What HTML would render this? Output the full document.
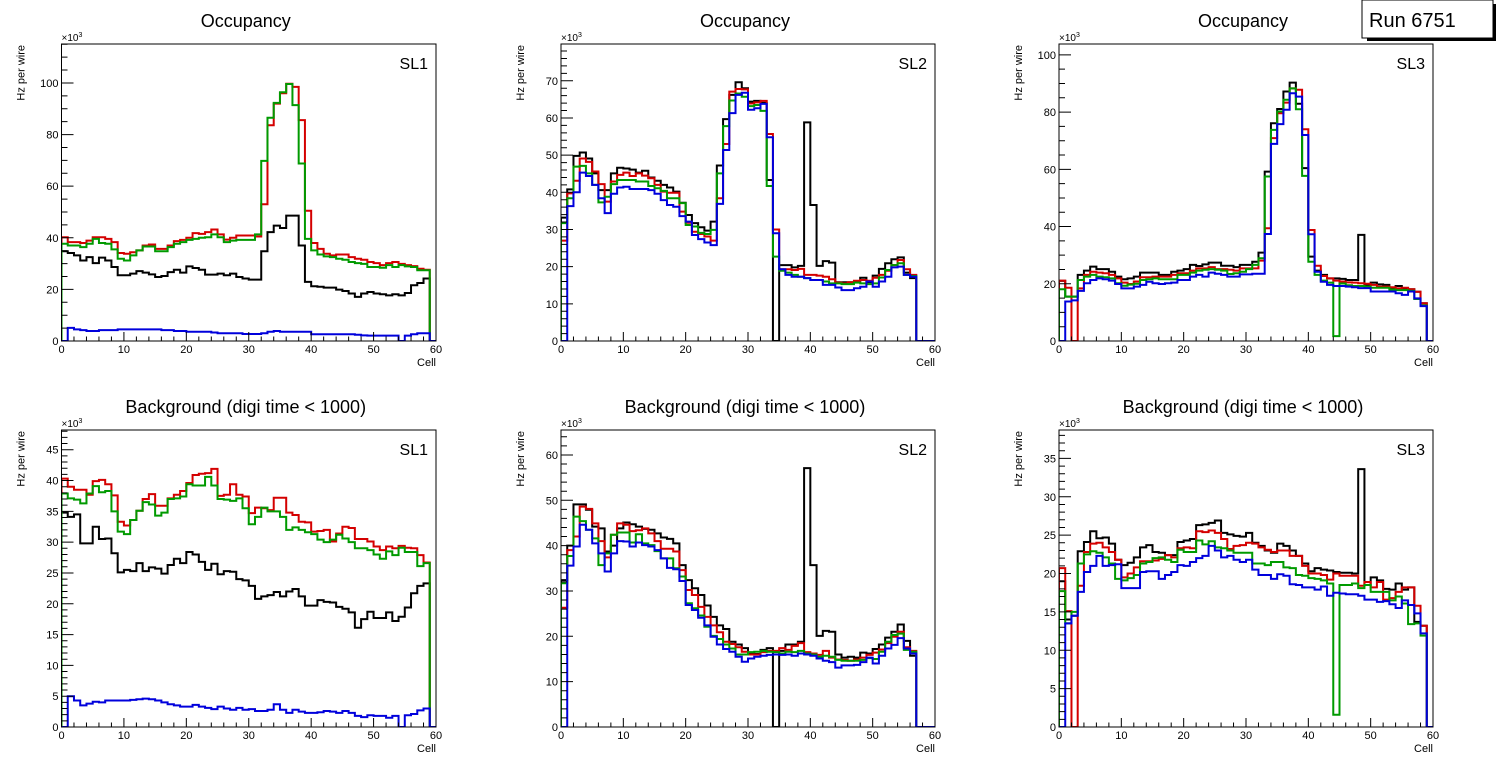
<!DOCTYPE html>
<html><head><meta charset="utf-8"><title>Occupancy Run 6751</title>
<style>
html,body{margin:0;padding:0;background:#fff;}
svg{display:block;font-family:"Liberation Sans",Arial,sans-serif;}
</style></head>
<body>
<svg id="chart" width="1496" height="772" viewBox="0 0 1496 772" xmlns="http://www.w3.org/2000/svg">
<rect x="0" y="0" width="1496" height="772" fill="#fff"/>
<g id="run-box">
<rect x="1367" y="4" width="129" height="37" fill="#000"/>
<rect x="1362" y="0" width="131" height="38" fill="#fff" stroke="#000" stroke-width="1"/>
<text x="1369" y="27" font-size="20" fill="#000">Run 6751</text>
</g>
</svg>
<script>
// ---- data (values in units of 10^3 Hz per wire, one value per cell bin 0..59) ----
const cellMin = 0;
const cellMax = 60;
const xTickLabels = [0,10,20,30,40,50,60];

const occSL1Black = [34.8,34.1,33.2,31.2,32.5,30.2,32.3,31.2,28.7,25.5,25.5,26.1,27.1,26.5,25.8,24.8,25.2,26.7,27.6,26.5,28.9,28.3,27.6,25.7,25.7,26.1,25.5,26.1,24.8,24.2,23.8,23.8,34.8,42.2,44.7,43.8,48.6,48.6,37.0,22.9,21.2,21.0,20.7,20.7,19.9,19.4,18.4,17.1,18.4,19.0,18.4,18.1,17.7,18.1,17.7,18.6,21.6,22.5,24.2,0];
const occSL1Red = [40.2,38.3,38.3,38.0,38.9,40.2,40.2,39.6,38.3,34.1,33.8,34.4,35.1,37.0,37.4,35.7,35.7,37.0,38.7,39.2,40.0,41.8,41.5,42.2,43.2,41.3,39.3,40.0,40.9,40.9,40.9,40.5,53.0,83.6,92.0,96.0,99.7,98.5,85.6,50.5,38.0,35.7,33.8,33.2,33.5,33.5,32.5,31.9,31.5,30.6,30.2,29.4,30.2,30.6,29.9,29.4,29.0,28.0,27.6,0];
const occSL1Green = [37.7,37.0,37.0,36.4,37.7,39.6,38.0,37.7,35.5,31.9,31.2,33.2,35.1,36.6,36.6,34.8,34.8,36.4,37.7,38.3,39.2,39.6,40.0,40.2,41.3,40.2,38.3,38.9,39.2,39.2,39.2,41.3,69.8,86.5,92.3,96.4,99.6,91.4,68.8,39.6,35.1,33.5,32.8,32.5,31.9,31.5,30.6,30.2,29.9,28.7,28.7,28.4,29.4,28.7,29.4,28.9,28.7,27.4,27.4,0];
const occSL1Blue = [0,5.1,4.5,4.2,3.9,3.9,4.2,4.2,4.2,4.5,4.5,4.5,4.5,4.5,4.5,4.5,4.2,4.2,3.9,3.9,3.6,3.6,3.6,3.6,3.3,3.0,3.0,3.0,3.0,2.7,2.7,2.7,3.0,3.6,3.9,3.6,3.6,3.6,3.6,3.6,2.6,2.6,2.6,2.6,2.6,2.6,2.6,2.4,2.2,2.1,2.1,2.1,2.1,2.1,0,2.1,2.6,3.0,3.0,0];

const occSL2Black = [33.2,40.8,49.8,50.7,49.1,45.1,40.6,40.6,45.1,46.6,46.4,46.1,45.3,45.8,44.0,43.1,42.0,41.3,40.2,37.2,33.9,31.7,30.6,29.7,32.1,47.2,59.7,66.2,69.6,68.0,64.4,64.6,64.1,43.3,0,20.4,20.4,19.8,20.2,58.8,36.6,20.2,21.5,21.1,15.8,15.8,15.8,16.0,17.0,15.8,17.6,19.4,20.9,22.0,22.5,18.4,16.9,0,0,0];
const occSL2Red = [27.0,39.7,43.1,49.1,48.2,45.6,42.2,37.5,42.9,44.7,45.3,44.4,45.1,44.5,43.8,42.0,40.2,39.9,39.9,34.8,31.8,29.4,28.8,28.1,27.0,38.4,53.0,67.1,67.8,67.7,63.9,64.2,64.6,55.7,30.0,19.3,19.3,19.1,19.4,17.8,17.8,17.6,17.3,16.6,15.7,15.5,15.8,16.2,16.4,16.2,17.0,17.8,18.9,20.4,21.8,19.3,17.8,0,0,0];
const occSL2Green = [31.7,38.4,46.9,47.1,45.1,42.0,37.3,38.8,42.2,43.3,43.3,43.3,42.9,42.9,41.7,41.1,40.4,38.4,38.4,37.1,31.2,30.8,29.1,28.8,29.9,45.1,57.8,64.7,66.6,65.7,63.2,63.5,61.9,41.7,22.7,18.9,18.4,17.8,17.3,16.9,16.4,16.4,16.0,15.5,15.5,15.3,15.3,15.7,15.5,15.3,15.5,17.1,19.1,20.4,20.9,17.8,17.5,0,0,0];
const occSL2Blue = [0,36.3,40.0,45.3,44.4,42.0,38.4,34.4,39.6,41.3,41.5,40.9,40.9,40.9,40.6,39.6,37.9,36.6,36.1,33.6,32.1,28.5,27.4,26.5,25.8,36.9,51.4,61.3,66.2,66.8,62.2,62.6,63.8,54.8,29.0,19.3,17.8,17.3,17.3,16.9,16.4,16.4,15.1,15.1,14.4,13.7,13.7,14.2,14.6,16.0,14.6,16.0,17.3,19.8,20.0,17.8,17.3,0,0,0];

const occSL3Black = [21.0,15.5,15.5,23.1,24.6,26.0,25.1,25.1,24.2,22.5,21.6,21.9,22.5,23.9,23.9,23.9,23.1,23.1,24.2,24.6,25.1,26.6,26.2,26.8,27.4,27.4,26.3,26.3,25.8,26.6,26.6,27.7,30.9,59.2,76.1,81.1,87.2,90.3,82.9,60.4,29.5,24.6,23.1,21.9,21.9,21.7,21.3,21.3,37.1,19.6,20.4,19.8,19.6,18.6,19.2,18.4,18.1,17.2,13.2,0];
const occSL3Red = [21.1,18.6,0,18.4,23.1,24.2,23.9,23.7,23.1,21.9,20.4,19.9,20.8,22.3,22.3,22.5,22.5,22.5,23.1,23.7,23.7,24.6,25.4,25.4,25.8,25.1,25.1,24.9,24.6,25.4,25.4,25.4,28.1,39.4,70.9,79.6,83.3,88.3,87.8,74.0,38.8,26.3,22.7,21.9,21.1,20.8,20.5,20.4,20.2,20.0,19.6,19.0,19.0,18.8,18.4,18.6,18.1,17.2,13.2,0];
const occSL3Green = [18.1,15.5,15.5,21.3,22.5,23.1,22.5,22.3,21.9,20.2,19.3,19.7,20.0,21.3,21.6,21.9,21.6,21.6,21.6,23.1,23.1,23.9,24.6,24.9,25.1,24.9,24.6,23.4,23.7,24.2,25.1,26.6,28.9,57.5,73.8,80.2,84.3,88.3,81.0,57.7,27.7,23.1,21.1,20.4,1.7,20.1,19.5,19.2,19.2,19.0,18.6,18.6,18.6,18.0,17.8,17.8,17.5,14.7,12.4,0];
const occSL3Blue = [0,13.8,14.2,17.5,20.2,21.3,21.9,21.6,21.1,19.9,18.4,18.4,19.0,19.6,20.7,20.2,19.9,20.2,20.4,21.3,21.3,22.5,23.1,22.5,23.9,23.5,23.1,22.5,22.5,23.3,23.3,23.5,23.5,37.4,68.9,75.8,80.8,86.6,85.4,72.0,37.3,24.2,20.7,19.6,19.2,19.2,19.0,18.8,18.5,18.5,17.3,17.3,17.3,17.3,16.7,16.1,17.3,14.9,12.2,0];

const bkgSL1Black = [34.8,34.1,34.5,29.8,29.8,32.5,30.5,30.6,28.2,25.1,25.5,25.3,26.6,25.3,25.9,25.7,24.9,26.3,27.3,26.6,28.4,28.0,26.8,25.5,26.5,24.8,25.3,25.2,24.0,23.8,22.9,20.8,21.2,21.4,21.9,21.2,22.0,22.4,21.2,19.7,19.7,20.6,20.3,20.2,19.5,19.2,18.6,16.1,17.5,18.7,17.7,17.7,18.6,17.2,17.9,19.4,21.7,22.9,23.3,0];
const bkgSL1Red = [40.3,39.0,38.5,38.5,37.7,39.9,40.1,39.4,37.6,33.3,32.7,33.6,35.1,37.0,37.8,35.9,35.9,37.1,37.7,38.3,39.6,40.9,41.1,41.2,41.9,37.5,37.7,39.4,37.7,37.4,34.7,35.6,35.5,35.2,37.2,37.2,34.8,34.4,33.3,33.2,31.7,31.8,32.0,30.1,31.4,32.5,32.3,30.5,30.5,30.1,29.3,28.7,29.3,29.0,29.4,29.1,29.0,27.9,26.7,0];
const bkgSL1Green = [37.9,37.1,36.9,36.3,37.9,39.1,38.1,38.3,35.0,31.7,31.3,33.6,35.1,36.5,36.1,34.3,34.8,37.0,37.1,37.4,39.4,39.2,39.2,40.6,39.2,37.0,36.9,36.7,37.1,35.5,32.9,34.1,35.6,35.0,35.0,34.1,32.0,32.4,32.0,31.6,31.3,30.4,30.0,30.4,31.2,30.6,30.0,29.0,29.0,28.7,28.0,27.3,28.5,27.9,29.1,28.4,28.4,26.1,26.6,0];
const bkgSL1Blue = [0,5.0,4.3,3.5,3.8,4.1,4.0,4.3,4.3,4.3,4.3,4.4,4.5,4.6,4.5,4.3,4.0,3.7,3.5,3.3,3.3,3.6,3.3,3.1,2.9,3.3,3.0,2.8,3.1,2.8,2.9,2.6,2.6,2.8,3.7,2.8,2.3,2.8,2.5,2.3,2.3,2.4,2.6,2.5,2.3,2.6,2.3,1.8,1.6,1.9,1.8,1.8,1.5,1.8,0,1.9,2.1,2.7,3.0,0];

const bkgSL2Black = [32.4,40.0,49.1,49.1,47.9,44.2,43.8,38.7,40.0,43.8,45.1,44.7,44.2,43.7,43.5,42.7,41.8,41.5,40.5,35.7,32.4,30.6,29.1,26.8,24.3,22.4,21.6,18.8,18.2,17.4,16.3,16.1,17.0,17.4,0,16.8,18.2,18.2,18.8,57.1,35.7,20.1,21.2,21.0,16.0,15.3,15.5,15.3,16.4,16.2,17.2,18.2,19.7,21.0,22.6,19.0,15.7,0,0,0];
const bkgSL2Red = [26.3,39.0,42.0,48.6,48.1,44.9,41.0,37.4,42.4,44.9,44.6,43.2,43.4,43.8,42.7,41.0,39.3,39.3,38.7,34.6,30.2,29.1,26.5,24.3,22.4,20.9,18.8,18.3,17.6,16.6,16.0,16.0,16.5,16.8,16.8,17.4,17.0,17.9,18.5,16.5,16.2,15.9,16.8,15.3,14.9,14.8,14.6,14.9,15.3,15.9,16.4,17.1,18.5,19.9,21.0,17.6,16.8,0,0,0];
const bkgSL2Green = [31.7,37.7,46.4,45.4,43.5,41.6,35.7,38.3,42.4,42.9,42.9,40.7,42.5,40.5,40.1,38.8,37.2,37.2,35.0,33.2,27.3,26.2,24.6,22.1,20.1,19.4,18.2,17.3,16.0,16.0,16.5,16.6,16.8,16.6,16.5,16.2,16.6,16.5,16.8,16.2,16.0,15.5,15.7,15.5,14.8,14.6,14.6,14.6,14.8,15.2,15.0,16.6,18.8,20.3,20.6,17.0,16.6,0,0,0];
const bkgSL2Blue = [0,35.6,39.8,44.6,43.5,40.5,38.3,34.3,38.3,41.0,40.9,39.8,40.7,40.1,39.8,39.0,37.2,35.1,34.8,32.2,26.9,25.8,24.1,22.4,19.9,18.2,17.2,16.6,15.5,14.4,15.1,15.5,15.7,15.9,16.0,15.9,16.0,15.7,16.2,16.0,15.7,15.1,14.6,14.3,13.1,13.6,13.6,13.7,14.3,15.3,14.0,15.7,17.3,18.1,19.6,17.3,16.2,0,0,0];

const bkgSL3Black = [19.0,14.0,14.5,22.9,24.1,25.5,24.6,24.7,23.9,21.8,21.1,21.4,22.1,23.4,23.7,22.8,22.7,22.4,22.4,24.1,24.3,24.5,26.3,26.4,26.6,26.9,25.3,25.1,24.9,24.8,25.3,24.0,23.6,23.0,22.7,23.9,23.6,23.0,22.3,21.3,20.3,20.7,20.5,20.4,20.2,20.1,20.1,20.0,33.6,18.5,19.5,19.1,18.0,17.9,18.7,17.9,18.2,13.7,13.2,0];
const bkgSL3Red = [20.7,15.1,0,18.4,22.8,23.9,24.0,23.4,22.8,21.8,19.5,20.0,20.8,21.6,21.6,21.7,21.9,22.4,22.1,23.3,23.4,23.3,25.5,25.4,25.6,25.3,24.5,23.2,23.6,23.7,24.0,23.9,23.4,23.1,22.8,23.0,23.0,22.3,22.3,21.0,20.0,20.0,19.8,19.2,20.0,19.7,19.7,19.7,18.4,18.9,18.2,18.9,16.6,16.8,17.6,18.2,18.2,15.8,13.2,0];
const bkgSL3Green = [17.7,13.5,15.0,21.3,22.5,22.9,22.7,22.1,21.3,19.3,19.1,19.4,19.8,21.3,21.5,22.0,22.1,21.8,21.5,23.1,22.8,22.8,24.3,23.8,24.2,23.4,23.3,23.0,22.7,22.7,22.7,21.3,21.3,21.1,21.5,21.5,20.8,20.7,19.8,19.7,19.4,19.3,19.1,18.7,1.6,18.5,18.5,18.7,18.1,18.5,17.6,17.6,17.6,16.5,17.0,16.1,13.4,13.5,11.9,0];
const bkgSL3Blue = [0,13.5,14.5,17.6,20.2,21.0,22.3,21.0,21.1,21.2,18.1,18.1,18.1,20.2,20.3,20.3,19.3,19.8,20.2,21.1,21.0,21.5,22.0,22.3,23.6,23.0,22.1,22.3,21.8,21.5,21.8,20.5,19.8,19.8,19.3,19.9,19.7,18.6,18.5,18.2,18.2,17.9,18.3,17.1,17.5,17.4,17.3,17.3,17.1,16.6,16.6,16.3,16.4,16.0,15.5,16.5,15.9,14.8,12.2,0];

const yTicksOccSL1 = [0,20,40,60,80,100];
const yTicksOccSL2 = [0,10,20,30,40,50,60,70];
const yTicksOccSL3 = [0,20,40,60,80,100];
const yTicksBkgSL1 = [0,5,10,15,20,25,30,35,40,45];
const yTicksBkgSL2 = [0,10,20,30,40,50,60];
const yTicksBkgSL3 = [0,5,10,15,20,25,30,35];

const seriesColors = ['#000000','#d40000','#009a00','#0000dc'];
const seriesNames = ['black','red','green','blue'];

// ---- layout ----
const panels = [
  {key:'occupancy-sl1', title:'Occupancy', sl:'SL1', left:61.5, right:436, top:44, bottom:341, ymax:115.1, minor:5, ticks:yTicksOccSL1, series:[occSL1Black,occSL1Red,occSL1Green,occSL1Blue]},
  {key:'occupancy-sl2', title:'Occupancy', sl:'SL2', left:561, right:935, top:44, bottom:341, ymax:79.9, minor:2, ticks:yTicksOccSL2, series:[occSL2Black,occSL2Red,occSL2Green,occSL2Blue]},
  {key:'occupancy-sl3', title:'Occupancy', sl:'SL3', left:1059, right:1433, top:44, bottom:341, ymax:103.8, minor:5, ticks:yTicksOccSL3, series:[occSL3Black,occSL3Red,occSL3Green,occSL3Blue]},
  {key:'background-sl1', title:'Background (digi time < 1000)', sl:'SL1', left:61.5, right:436, top:430, bottom:727, ymax:48.2, minor:1, ticks:yTicksBkgSL1, series:[bkgSL1Black,bkgSL1Red,bkgSL1Green,bkgSL1Blue]},
  {key:'background-sl2', title:'Background (digi time < 1000)', sl:'SL2', left:561, right:935, top:430, bottom:727, ymax:65.5, minor:2, ticks:yTicksBkgSL2, series:[bkgSL2Black,bkgSL2Red,bkgSL2Green,bkgSL2Blue]},
  {key:'background-sl3', title:'Background (digi time < 1000)', sl:'SL3', left:1059, right:1433, top:430, bottom:727, ymax:38.7, minor:1, ticks:yTicksBkgSL3, series:[bkgSL3Black,bkgSL3Red,bkgSL3Green,bkgSL3Blue]}
];

const NS = 'http://www.w3.org/2000/svg';
const svg = document.getElementById('chart');
const runBox = document.getElementById('run-box');
function mk(tag, attrs, parent){
  const e = document.createElementNS(NS, tag);
  for (const k in attrs) e.setAttribute(k, attrs[k]);
  parent.appendChild(e);
  return e;
}

panels.forEach(function(p, pi){
  const g = mk('g', {}, svg);
  
  
  const xs = function(v){ return p.left + (v - cellMin) / (cellMax - cellMin) * (p.right - p.left); };
  const ys = function(v){ return p.bottom - v / p.ymax * (p.bottom - p.top); };
  const cx = (p.left + p.right) / 2;

  const t = mk('text', {x: cx - 3, y: p.top - 17, 'font-size': 18, 'text-anchor': 'middle', fill: '#000'}, g);
  t.textContent = p.title;
  
  

  // histograms clipped to frame
  const clipId = 'clip' + pi;
  const cp = mk('clipPath', {id: clipId}, g);
  mk('rect', {x: p.left, y: p.top, width: p.right - p.left, height: p.bottom - p.top}, cp);
  const hg = mk('g', {'clip-path': 'url(#' + clipId + ')'}, g);
  p.series.forEach(function(arr, si){
    const n = arr.length;
    const bw = (cellMax - cellMin) / n;
    let d = 'M' + xs(cellMin).toFixed(2) + ' ' + ys(0).toFixed(2);
    for (let i = 0; i < n; i++) {
      d += ' V' + ys(arr[i]).toFixed(2) + ' H' + xs(cellMin + (i + 1) * bw).toFixed(2);
    }
    d += ' V' + ys(0).toFixed(2);
    const path = mk('path', {d: d, fill: 'none', stroke: seriesColors[si], 'stroke-width': 2, 'stroke-linejoin': 'miter'}, hg);
    
    
  });

  // frame
  const fr = mk('rect', {x: p.left, y: p.top, width: p.right - p.left, height: p.bottom - p.top, fill: 'none', stroke: '#000', 'stroke-width': 1}, g);
  
  

  // y axis ticks
  const ya = mk('g', {}, g);
  
  
  let tk = '';
  for (let v = 0; v <= p.ymax + 1e-6; v += p.minor) {
    const yy = ys(v);
    const isMajor = p.ticks.some(function(m){ return Math.abs(m - v) < 1e-6; });
    tk += 'M' + p.left + ' ' + yy.toFixed(2) + ' h' + (isMajor ? 12 : 6) + ' ';
  }
  mk('path', {d: tk, stroke: '#000', 'stroke-width': 1, fill: 'none'}, ya);
  p.ticks.forEach(function(v){
    const lb = mk('text', {x: p.left - 3, y: ys(v) + 4, 'font-size': 11, 'text-anchor': 'end', fill: '#000'}, ya);
    lb.textContent = String(v);
    
    
  });
  const mult = mk('text', {x: p.left, y: p.top - 3, 'font-size': 10, fill: '#000'}, ya);
  mult.innerHTML = '\u00d710<tspan dy="-4" font-size="7">3</tspan>';
  
  
  const yt = mk('text', {x: 0, y: 0, 'font-size': 11, 'text-anchor': 'end', fill: '#000', transform: 'translate(' + (p.left - 37) + ',' + (p.top + 1) + ') rotate(-90)'}, ya);
  yt.textContent = 'Hz per wire';
  
  

  // x axis
  const xa = mk('g', {}, g);
  
  
  let xk = '';
  for (let v = cellMin; v <= cellMax; v += 2) {
    const isMajor = xTickLabels.indexOf(v) >= 0;
    xk += 'M' + xs(v).toFixed(2) + ' ' + p.bottom + ' v' + (isMajor ? -9 : -4.5) + ' ';
  }
  mk('path', {d: xk, stroke: '#000', 'stroke-width': 1, fill: 'none'}, xa);
  xTickLabels.forEach(function(v){
    const lb = mk('text', {x: xs(v), y: p.bottom + 12, 'font-size': 11, 'text-anchor': 'middle', fill: '#000'}, xa);
    lb.textContent = String(v);
    
    
  });
  const xt = mk('text', {x: p.right, y: p.bottom + 25, 'font-size': 11, 'text-anchor': 'end', fill: '#000'}, xa);
  xt.textContent = 'Cell';
  
  

  // SL label
  const sl = mk('text', {x: p.right - 8, y: p.top + 25, 'font-size': 16, 'text-anchor': 'end', fill: '#000'}, g);
  sl.textContent = p.sl;
  
  
});
svg.appendChild(runBox);
</script>
</body></html>
